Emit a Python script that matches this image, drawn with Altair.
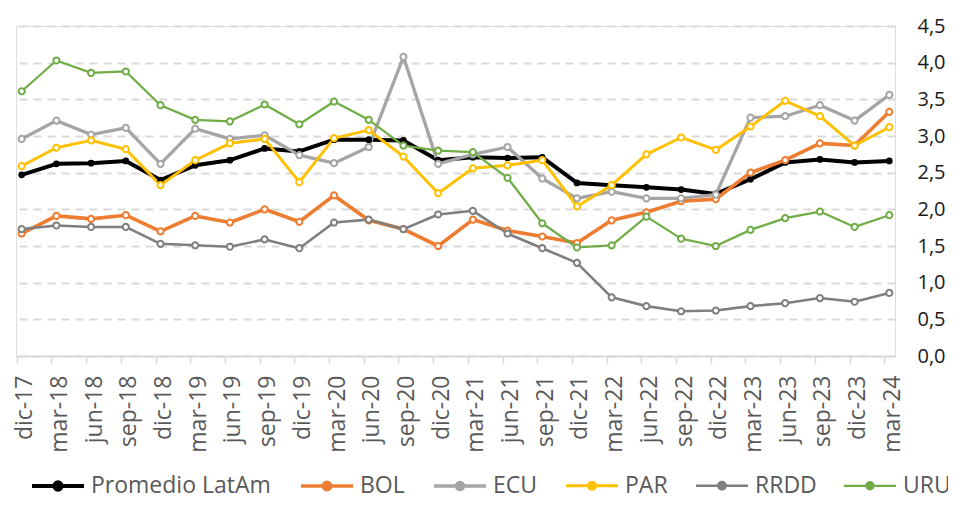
import altair as alt
import pandas as pd

periods = ["dic-17", "mar-18", "jun-18", "sep-18", "dic-18", "mar-19", "jun-19", "sep-19",
           "dic-19", "mar-20", "jun-20", "sep-20", "dic-20", "mar-21", "jun-21", "sep-21",
           "dic-21", "mar-22", "jun-22", "sep-22", "dic-22", "mar-23", "jun-23", "sep-23",
           "dic-23", "mar-24"]

series = ["Promedio LatAm", "BOL", "ECU", "PAR", "RRDD", "URU"]
colors = ["#000000", "#ED7D31", "#A5A5A5", "#FFC000", "#7F7F7F", "#70AD47"]
fills = ["#000000", "#FFFFFF", "#FFFFFF", "#FFFFFF", "#FFFFFF", "#FFFFFF"]
widths = [4, 2.25, 2.25, 2.25, 2.25, 2.25]

promedio = [2.47, 2.62, 2.63, 2.66, 2.40, 2.60, 2.67, 2.83, 2.79, 2.95, 2.95, 2.94, 2.67,
            2.71, 2.70, 2.71, 2.36, 2.33, 2.30, 2.27, 2.21, 2.41, 2.64, 2.68, 2.64, 2.66]
bol = [1.67, 1.91, 1.87, 1.92, 1.70, 1.91, 1.82, 2.00, 1.83, 2.19, 1.85, 1.73, 1.50,
       1.86, 1.71, 1.63, 1.54, 1.85, 1.96, 2.11, 2.14, 2.50, 2.67, 2.90, 2.87, 3.33]
ecu = [2.96, 3.21, 3.02, 3.11, 2.62, 3.10, 2.96, 3.01, 2.74, 2.63, 2.85, 4.08, 2.62,
       2.75, 2.85, 2.42, 2.15, 2.24, 2.15, 2.15, 2.20, 3.25, 3.27, 3.42, 3.21, 3.56]
par = [2.59, 2.84, 2.94, 2.82, 2.33, 2.67, 2.90, 2.96, 2.37, 2.97, 3.08, 2.72, 2.22,
       2.56, 2.60, 2.67, 2.04, 2.33, 2.75, 2.98, 2.81, 3.13, 3.48, 3.27, 2.87, 3.12]
rrdd = [1.73, 1.78, 1.76, 1.76, 1.53, 1.51, 1.49, 1.59, 1.47, 1.82, 1.86, 1.73, 1.93,
        1.98, 1.67, 1.47, 1.27, 0.80, 0.68, 0.61, 0.62, 0.68, 0.72, 0.79, 0.74, 0.86]
uru = [3.61, 4.03, 3.86, 3.88, 3.42, 3.22, 3.20, 3.43, 3.16, 3.47, 3.22, 2.87, 2.80,
       2.78, 2.43, 1.81, 1.48, 1.51, 1.90, 1.60, 1.50, 1.72, 1.88, 1.97, 1.76, 1.92]

y_ticks = [0, 0.5, 1, 1.5, 2, 2.5, 3, 3.5, 4, 4.5]

values = {"Promedio LatAm": promedio, "BOL": bol, "ECU": ecu,
          "PAR": par, "RRDD": rrdd, "URU": uru}
rows = []
for s in series:
    for p, v in zip(periods, values[s]):
        rows.append({"period": p, "serie": s, "value": v})
df = pd.DataFrame(rows)

FONT = "Open Sans"
SYM = ("M-1,0H-0.14M0.14,0H1M-0.14,0A0.14,0.14,0,1,1,0.14,0"
       "A0.14,0.14,0,1,1,-0.14,0Z")

def leg():
    return alt.Legend(title=None, symbolType=SYM, orient="none", legendX=14, legendY=432,
                      direction="horizontal", columns=6, labelFont=FONT,
                      labelFontSize=23, labelColor="#595959", symbolSize=2704,
                      labelOffset=5, columnPadding=22, padding=0, symbolOpacity=1,
                      symbolFillColor="#FFFFFF", labelLimit=400)

x = alt.X("period:N", sort=periods, title=None,
          scale=alt.Scale(type="point", padding=0.164),
          axis=alt.Axis(labelAngle=270, labelAlign="right", labelBaseline="middle",
                        labelFont=FONT, labelFontSize=23, labelColor="#595959",
                        labelPadding=11, tickSize=8, tickColor="#D9D9D9", tickWidth=1.5,
                        tickOffset=-5, labelOffset=8, domainColor="#D9D9D9",
                        domainWidth=2, grid=False, labelOverlap=False))
y = alt.Y("value:Q", title=None, scale=alt.Scale(domain=[0, 4.5], nice=False),
          axis=alt.Axis(orient="right", values=y_ticks,
                        labelExpr="replace(format(datum.value, '.1f'), '.', ',')",
                        domain=False, ticks=False, grid=True, gridDash=[8, 6],
                        gridColor="#D9D9D9", gridWidth=2, labelFont=FONT,
                        labelFontSize=20, labelColor="#1a1a1a", labelPadding=22))

color = alt.Color("serie:N", scale=alt.Scale(domain=series, range=colors), legend=leg())

lines = alt.Chart(df).mark_line(strokeJoin="round").encode(
    x=x, y=y, color=color,
    strokeWidth=alt.StrokeWidth("serie:N", scale=alt.Scale(domain=series, range=widths),
                                legend=leg()),
)

points_avg = alt.Chart(df).transform_filter(
    alt.datum.serie == series[0]
).mark_point(filled=True, opacity=1, size=45, strokeWidth=2).encode(
    x=x, y=y, color=color,
)

points_oth = alt.Chart(df).transform_filter(
    alt.datum.serie != series[0]
).mark_point(filled=False, opacity=1, size=38, strokeWidth=2).encode(
    x=x, y=y, color=color,
    fill=alt.Fill("serie:N", scale=alt.Scale(domain=series, range=fills), legend=leg()),
)

chart = alt.layer(lines, points_avg, points_oth).properties(
    width=879, height=330,
    padding={"left": 8, "top": 18, "right": 53, "bottom": 140},
    autosize=alt.AutoSizeParams(type="none"),
).configure_view(stroke=None).configure(background="white")

chart.save("out.html", embed_options={"renderer": "svg", "actions": False})
